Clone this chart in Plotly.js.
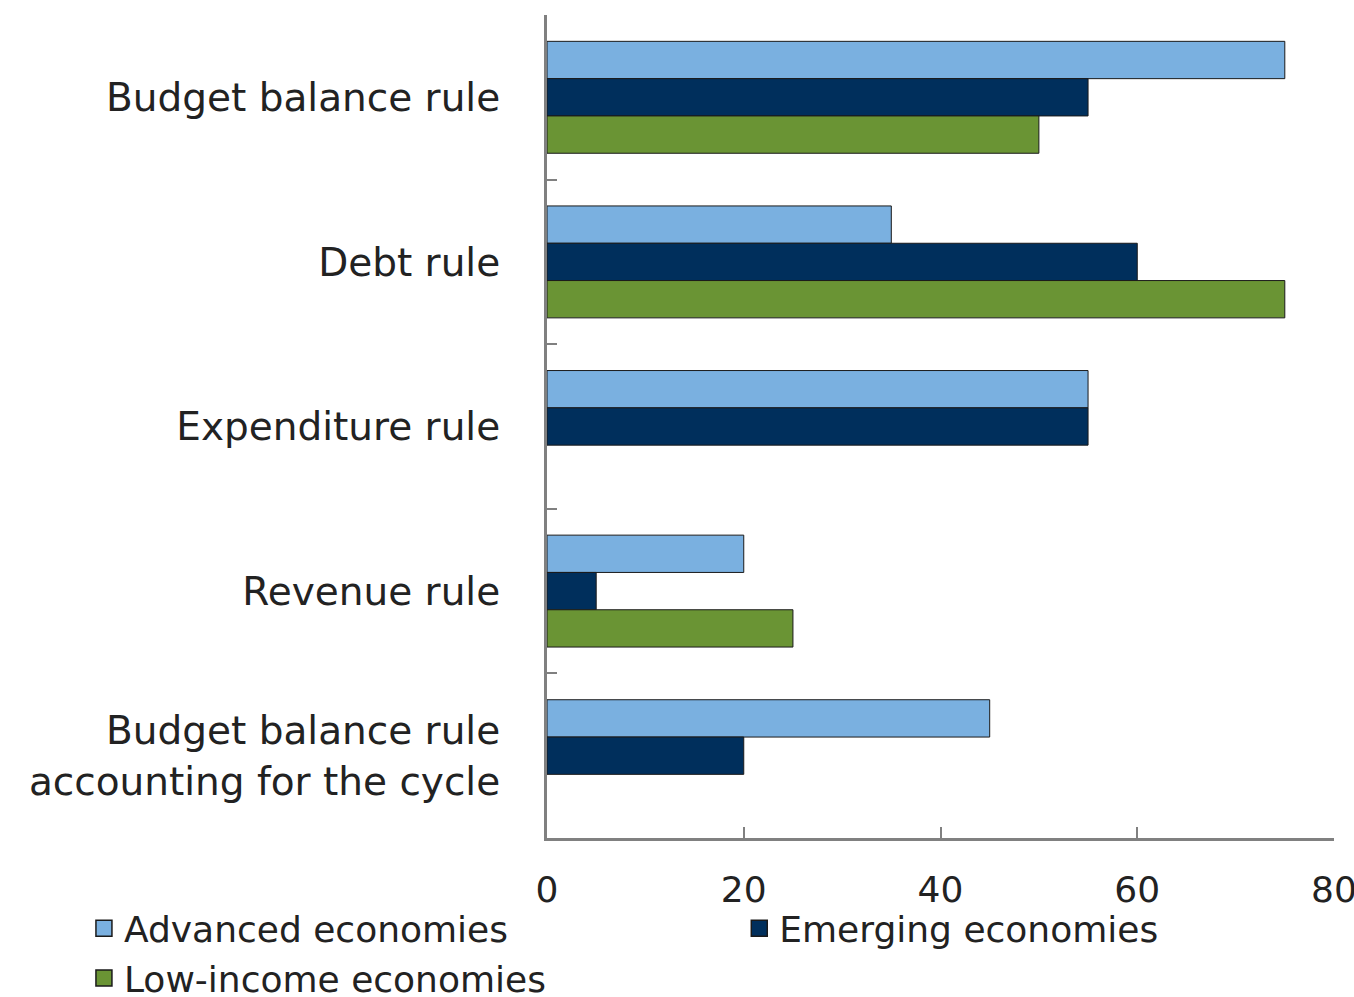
<!DOCTYPE html>
<html>
<head>
<meta charset="utf-8">
<script src="https://cdn.plot.ly/plotly-3.0.1.min.js"></script>
<style>html,body{margin:0;padding:0;background:#fff;}#chart{width:1354px;height:997px;}</style>
</head>
<body>
<div id="chart"></div>
<script>
const categories = ["Budget balance rule", "Debt rule", "Expenditure rule", "Revenue rule", "Budget balance rule<br>accounting for the cycle"];
const advanced = [75, 35, 55, 20, 45];
const emerging = [55, 60, 55, 5, 20];
const lowIncome = [50, 75, null, 25, null];
const seriesNames = ["Advanced economies", "Emerging economies", "Low-income economies"];
const xTicks = [0, 20, 40, 60, 80];

const FONT = "DejaVu Sans, Liberation Sans, Arial, sans-serif";
const colors = ["#7AB0E0", "#002F5C", "#6A9434"];
const series = [advanced, emerging, lowIncome];
const legendIds = ["legend", "legend2", "legend"];

const barTraces = series.map((vals, i) => ({
  type: "bar",
  orientation: "h",
  name: seriesNames[i],
  x: vals,
  y: categories,
  marker: {color: colors[i], line: {color: "#1a1a1a", width: 1}},
  showlegend: false,
  hoverinfo: "x+y"
}));

// legend-only entries with larger square symbols
const legendTraces = seriesNames.map((name, i) => ({
  type: "scatter",
  mode: "markers",
  name: name,
  legend: legendIds[i],
  x: [null],
  y: [categories[0]],
  marker: {symbol: "square", size: 20, color: colors[i], line: {color: "#1a1a1a", width: 1.5}},
  showlegend: true,
  hoverinfo: "skip"
}));

const legendBase = {
  orientation: "v",
  xref: "container", yref: "container",
  xanchor: "left", yanchor: "top",
  traceorder: "normal",
  itemwidth: 30,
  itemsizing: "trace",
  font: {family: FONT, size: 36, color: "#222222"},
  bgcolor: "rgba(0,0,0,0)",
  tracegroupgap: 0
};

const layout = {
  width: 1354,
  height: 997,
  margin: {l: 547, r: 20, t: 15, b: 159, autoexpand: false},
  paper_bgcolor: "#ffffff",
  plot_bgcolor: "#ffffff",
  font: {family: FONT, size: 38, color: "#222222"},
  barmode: "group",
  bargap: 0.32,
  bargroupgap: 0,
  showlegend: true,
  legend: Object.assign({}, legendBase, {x: 0.062, y: 0.099}),
  legend2: Object.assign({}, legendBase, {x: 0.546, y: 0.099}),
  xaxis: {
    range: [0, 80],
    tickvals: xTicks,
    ticktext: xTicks.map(String),
    showgrid: false,
    zeroline: false,
    showline: true,
    linecolor: "#808080",
    linewidth: 3,
    ticks: "inside",
    ticklen: 11,
    tickwidth: 2,
    tickcolor: "#808080",
    ticklabelstandoff: 18,
    ticklabeloverflow: "allow",
    tickfont: {family: FONT, size: 36, color: "#222222"},
    fixedrange: true
  },
  yaxis: {
    type: "category",
    autorange: "reversed",
    showgrid: false,
    zeroline: false,
    showline: true,
    linecolor: "#808080",
    linewidth: 3,
    ticks: "inside",
    tickson: "boundaries",
    ticklen: 10,
    tickwidth: 2,
    tickcolor: "#808080",
    ticklabelstandoff: 36,
    tickfont: {family: FONT, size: 39, color: "#222222"},
    fixedrange: true
  }
};

Plotly.newPlot("chart", barTraces.concat(legendTraces), layout, {displayModeBar: false, staticPlot: true});
</script>
</body>
</html>
